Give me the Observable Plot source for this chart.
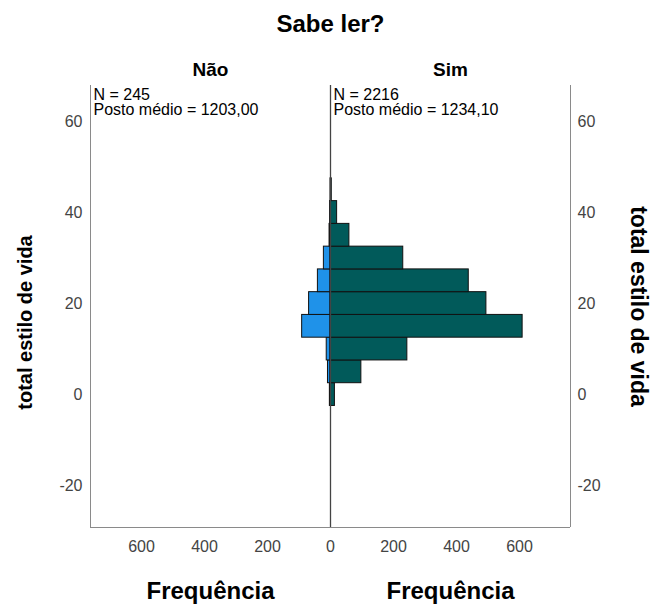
<!DOCTYPE html>
<html><head><meta charset="utf-8">
<script src="https://cdn.jsdelivr.net/npm/d3@7"></script>
<script src="https://cdn.jsdelivr.net/npm/@observablehq/plot@0.6"></script>
<style>
body{margin:0;background:#fff}
svg{font-family:"Liberation Sans",Arial,sans-serif}
</style>
</head><body><div id="chart"></div>
<script>
// Bin centers of "total estilo de vida" (bin width 5)
const binCenters = [0, 5, 10, 15, 20, 25, 30, 35, 40, 45];
const binWidth = 5;
// Frequencies per bin
const naoCounts = [2, 8, 12, 90, 68, 40, 21, 3, 1, 0];      // Não (N = 245)
const simCounts = [14, 98, 244, 610, 495, 439, 231, 60, 21, 4]; // Sim (N = 2216)
const groups = ["Não", "Sim"];
const naoStats = ["N = 245", "Posto médio = 1203,00"];
const simStats = ["N = 2216", "Posto médio = 1234,10"];
const xTicks = [-600, -400, -200, 0, 200, 400, 600];
const yTicks = [-20, 0, 20, 40, 60];
const xMax = 762;
const yDomain = [-29.2, 67.9];

const rows = [];
binCenters.forEach((c, i) => {
  if (naoCounts[i] > 0) rows.push({group: "Não", y1: c - binWidth / 2, y2: c + binWidth / 2, x1: -naoCounts[i], x2: 0});
  if (simCounts[i] > 0) rows.push({group: "Sim", y1: c - binWidth / 2, y2: c + binWidth / 2, x1: 0, x2: simCounts[i]});
});

const font = '"Liberation Sans", Arial, sans-serif';
const chart = Plot.plot({
  width: 651, height: 604,
  marginTop: 85, marginBottom: 77, marginLeft: 90, marginRight: 81,
  x: {domain: [-xMax, xMax]},
  y: {domain: yDomain},
  color: {domain: groups, range: ["#1f92e9", "#015a5a"]},
  style: {fontFamily: font, fontSize: "16px", color: "#000", background: "#fff"},
  marks: [
    Plot.rectX(rows, {x1: "x1", x2: "x2", y1: "y1", y2: "y2", fill: "group", stroke: "#111", strokeWidth: 1, inset: 0}),
    Plot.ruleX([-xMax, xMax], {stroke: "#8a8a8a", strokeWidth: 1}),
    Plot.ruleY([yDomain[0]], {stroke: "#8a8a8a", strokeWidth: 1}),
    Plot.ruleX([0], {stroke: "#444", strokeWidth: 1.3}),
    Plot.axisX(xTicks, {tickSize: 0, tickPadding: 13, tickFormat: d => String(Math.abs(d)), fontSize: 16, fill: "#444", label: null}),
    Plot.axisY(yTicks, {anchor: "left", tickSize: 0, tickPadding: 8, tickFormat: d => String(d), fontSize: 16, fill: "#444", label: null}),
    Plot.axisY(yTicks, {anchor: "right", tickSize: 0, tickPadding: 7, tickFormat: d => String(d), fontSize: 16, fill: "#444", label: null}),
    Plot.text(["Sabe ler?"], {frameAnchor: "top", dy: -54, lineAnchor: "bottom", fontSize: 24, fontWeight: "bold", fill: "#000"}),
    Plot.text(groups, {x: (d, i) => (i === 0 ? -1 : 1) * xMax / 2, frameAnchor: "top", dy: -10, lineAnchor: "bottom", fontSize: 19, fontWeight: "bold", fill: "#000"}),
    Plot.text(groups, {x: (d, i) => (i === 0 ? -1 : 1) * xMax / 2, text: () => "Frequência", frameAnchor: "bottom", dy: 71, lineAnchor: "bottom", fontSize: 24, fontWeight: "bold", fill: "#000"}),
    Plot.text([naoStats.join("\n"), simStats.join("\n")], {x: (d, i) => (i === 0 ? -xMax : 0), frameAnchor: "top", textAnchor: "start", lineAnchor: "top", dx: 3, dy: 3, fontSize: 16, lineHeight: 0.97, fill: "#000"}),
    Plot.text(["total estilo de vida"], {frameAnchor: "left", rotate: -90, textAnchor: "middle", dx: -59, dy: 16, lineAnchor: "bottom", fontSize: 20, fontWeight: "bold", fill: "#000"}),
    Plot.text(["total estilo de vida"], {frameAnchor: "right", rotate: 90, textAnchor: "middle", dx: 60, dy: 0, lineAnchor: "bottom", fontSize: 23, fontWeight: "bold", fill: "#000"})
  ]
});
document.getElementById("chart").append(chart);
</script>
</body></html>
